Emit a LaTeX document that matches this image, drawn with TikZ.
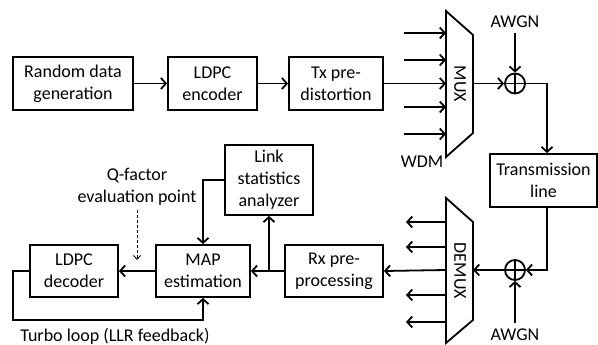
\documentclass[tikz,border=0pt]{standalone}
\usepackage{fontspec}
\setmainfont{Carlito}
\usetikzlibrary{arrows.meta,calc}
\begin{document}
\begin{tikzpicture}[x=1pt,y=-1pt,
  line width=1.8pt,
  every node/.style={font=\fontsize{18}{22}\selectfont, inner sep=0pt},
  blk/.style={draw, line width=1.8pt, minimum width=#1, align=center},
  blk/.default=90pt,
  arr/.style={-{Straight Barb[length=5pt,width=11pt,line width=1.8pt]}},
  darr/.style={line width=0.8pt, dash pattern=on 3pt off 2pt, -{Straight Barb[length=4pt,width=7pt,line width=0.8pt]}},
  lbl/.style={align=center}
]
\useasboundingbox (0,0) rectangle (598,345);

% top row
\node[blk=120pt, minimum height=53pt] (rand) at (73,83.5) {Random data\\generation};
\node[blk=89pt, minimum height=53pt] (enc) at (212.5,83.5) {LDPC\\encoder};
\node[blk=94pt, minimum height=53pt] (tx) at (336,83.5) {Tx pre-\\distortion};

% MUX
\draw (446,11) -- (473,35) -- (473,133) -- (446,157) -- cycle;
\node[rotate=-90] (muxl) at (460,84) {MUX};
\coordinate (mi1) at (446,33);
\coordinate (mi2) at (446,60);
\coordinate (mi3) at (446,83.5);
\coordinate (mi4) at (446,107);
\coordinate (mi5) at (446,134);
\coordinate (ms1) at (404,33);
\coordinate (ms2) at (404,60);
\coordinate (ms4) at (404,107);
\coordinate (ms5) at (404,134);
\coordinate (mo) at (473,83.5);
\node (wdm) at (422,162) {WDM};

% adder 1
\node[draw, circle, minimum size=20pt, line width=1.8pt] (add1) at (515,83.5) {};
\draw (add1.north) -- (add1.south) (add1.west) -- (add1.east);
\node (awgn1) at (515,22) {AWGN};

% transmission line
\node[blk=107pt, minimum height=53pt] (trans) at (543.5,180.5) {Transmission\\line};
\coordinate (tcol) at (547,0);

% adder 2
\node[draw, circle, minimum size=20pt, line width=1.8pt] (add2) at (515,270) {};
\draw (add2.north) -- (add2.south) (add2.west) -- (add2.east);
\node (awgn2) at (515,335) {AWGN};

% DEMUX
\draw (446,198) -- (473,222) -- (473,320) -- (446,343) -- cycle;
\node[rotate=-90] (demuxl) at (460,271) {DEMUX};
\coordinate (di) at (473,270);
\coordinate (do1) at (446,222);
\coordinate (do2) at (446,247);
\coordinate (do3) at (446,270);
\coordinate (do4) at (446,295);
\coordinate (do5) at (446,322);
\coordinate (de1) at (406,222);
\coordinate (de2) at (406,247);
\coordinate (de4) at (406,295);
\coordinate (de5) at (406,322);

% bottom row
\node[blk=98pt, minimum height=52pt] (rx) at (334,271) {Rx pre-\\processing};
\node[blk=88pt, minimum height=70pt] (link) at (269,180) {Link\\statistics\\analyzer};
\node[blk=94pt, minimum height=52pt] (map) at (203,271) {MAP\\estimation};
\node[blk=88pt, minimum height=52pt] (dec) at (74,271) {LDPC\\decoder};
\node[lbl] (q) at (137,186.5) {Q-factor\\evaluation point};
\node (turbo) at (115,336) {Turbo loop (LLR feedback)};
\coordinate (br) at (269,271);
\coordinate (tl) at (13,271);
\coordinate (tb) at (13,320);

% connectors top
\draw[arr] (rand) -- (enc);
\draw[arr] (enc) -- (tx);
\draw[arr] (tx.east) -- (mi3);
\draw[arr] (ms1) -- (mi1);
\draw[arr] (ms2) -- (mi2);
\draw[arr] (ms4) -- (mi4);
\draw[arr] (ms5) -- (mi5);
\draw[arr] (mo) -- (add1.west);
\draw[arr] ($(awgn1.south)+(0,4)$) -- (add1.north);
\draw[arr] (add1.east) -| (tcol |- trans.north);

% connectors bottom
\draw[arr] (tcol |- trans.south) |- (add2.east);
\draw[arr] (add2.west) -- (di);
\draw[arr] ($(awgn2.north)+(0,-5)$) -- (add2.south);
\draw[arr] (do1) -- (de1);
\draw[arr] (do2) -- (de2);
\draw[arr] (do3) -- (rx.east);
\draw[arr] (do4) -- (de4);
\draw[arr] (do5) -- (de5);
\draw[arr] (rx.west) -- (map.east);
\draw[arr] (br) -- (link.south);
\draw[arr] (link.west) -| (map.north);
\draw[arr] (map.west) -- (dec.east);
\draw[arr] (dec.west) -- (tl) -- (tb) -| (map.south);
\draw[darr] ($(q.south)+(0,4)$) -- (137,260);
\end{tikzpicture}
\end{document}
